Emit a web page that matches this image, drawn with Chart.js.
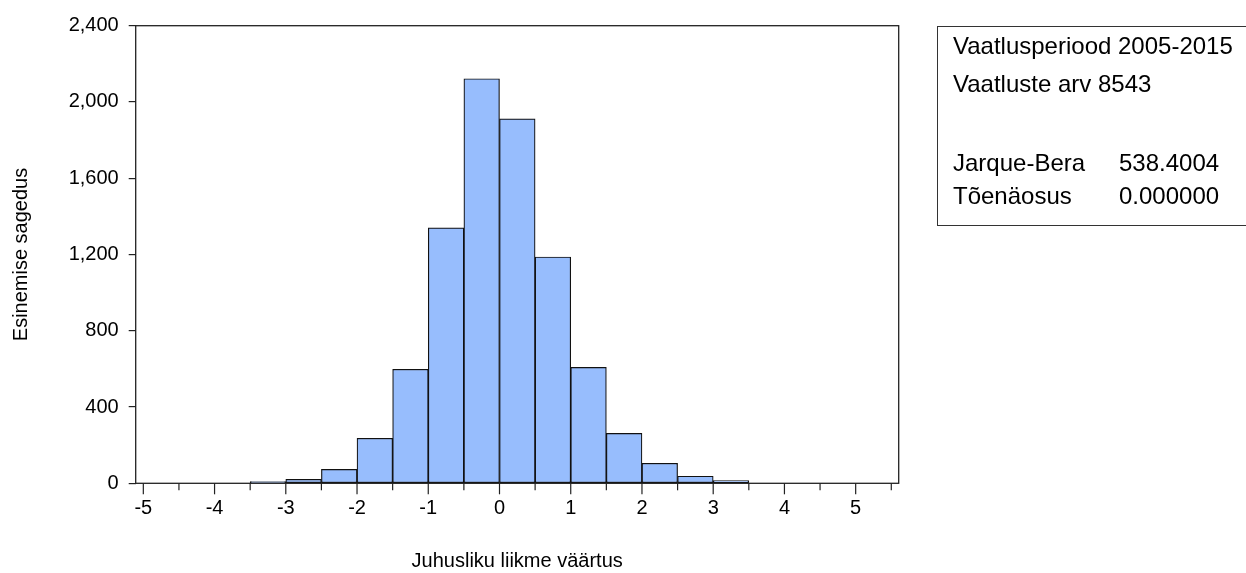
<!DOCTYPE html>
<html>
<head>
<meta charset="utf-8">
<script src="https://cdn.jsdelivr.net/npm/chart.js@4/dist/chart.umd.min.js"></script>
<style>
  html, body { margin: 0; padding: 0; background: #fff; }
  #wrap { width: 1246px; height: 573px; position: relative; }
</style>
</head>
<body>
<div id="wrap"><canvas id="grafico" width="1246" height="573"></canvas></div>
<script>
// histogrammi klassid (vasak serv, laius 0.5) ja sagedused
const binStarts = [-3.5, -3, -2.5, -2, -1.5, -1, -0.5, 0, 0.5, 1, 1.5, 2, 2.5, 3];
const counts = [9, 21, 73, 236, 598, 1340, 2122, 1911, 1187, 608, 262, 105, 37, 14];
const binWidth = 0.5;

const xTicks = [-5, -4.5, -4, -3.5, -3, -2.5, -2, -1.5, -1, -0.5, 0, 0.5, 1, 1.5, 2, 2.5, 3, 3.5, 4, 4.5, 5, 5.5];
const yTicks = [0, 400, 800, 1200, 1600, 2000, 2400];
const statLines = [
    ['Vaatlusperiood 2005-2015', ''],
    ['Vaatluste arv 8543', ''],
    ['Jarque-Bera', '538.4004'],
    ['Tõenäosus', '0.000000']
];

const FONT = 'Liberation Sans, Arial, sans-serif';
const isWhole = v => Math.abs(v - Math.round(v)) < 1e-9;

// raam ümber joonise, x-telje kriipsud ja statistika kast
const extras = {
    id: 'extras',
    afterDraw(chart) {
        const ctx = chart.ctx;
        const a = chart.chartArea;
        const xs = chart.scales.x;
        ctx.save();
        ctx.strokeStyle = '#222';
        ctx.lineWidth = 1.3;
        ctx.strokeRect(a.left, a.top, a.right - a.left, a.bottom - a.top);

        // kriipsud iga 0.5 järel, täisarvudel pikemad
        ctx.lineWidth = 1.2;
        xTicks.forEach(v => {
            let px = xs.getPixelForValue(v);
            let len = isWhole(v) ? 11 : 7;
            ctx.beginPath();
            ctx.moveTo(px, a.bottom);
            ctx.lineTo(px, a.bottom + len);
            ctx.stroke();
        });

        // kast paremal
        ctx.lineWidth = 1;
        ctx.strokeStyle = '#333';
        ctx.strokeRect(937.5, 26.5, 400, 199);
        ctx.fillStyle = '#000';
        ctx.font = '24px ' + FONT;
        ctx.textBaseline = 'alphabetic';
        const baselines = [54, 92, 171, 204];
        statLines.forEach((ln, k) => {
            ctx.fillText(ln[0], 953, baselines[k]);
            if (ln[1]) ctx.fillText(ln[1], 1119, baselines[k]);
        });
        ctx.restore();
    }
};

new Chart('grafico', {
    type: 'bar',
    data: {
        datasets: [{
            data: binStarts.map((b, i) => ({ x: b + binWidth / 2, y: counts[i] })),
            backgroundColor: '#97bdfd',
            borderColor: '#111',
            borderWidth: 1.2,
            borderSkipped: false,
            barPercentage: 1,
            categoryPercentage: 1
        }]
    },
    options: {
        responsive: false,
        animation: false,
        devicePixelRatio: 1,
        layout: { padding: { left: 0, right: 347.3, top: 25.7, bottom: 0 } },
        plugins: { legend: { display: false }, tooltip: { enabled: false } },
        scales: {
            x: {
                type: 'linear',
                min: -5.107,
                max: 5.604,
                offset: false,
                afterFit(scale) { scale.height = 89.7; },
                afterBuildTicks(scale) { scale.ticks = xTicks.map(v => ({ value: v })); },
                grid: { display: false, drawTicks: false },
                border: { display: false },
                ticks: {
                    autoSkip: false,
                    maxRotation: 0,
                    padding: 13,
                    color: '#000',
                    font: { family: FONT, size: 20 },
                    callback: v => (isWhole(v) ? String(Math.round(v)) : '')
                },
                title: {
                    display: true,
                    text: 'Juhusliku liikme väärtus',
                    color: '#000',
                    padding: 0,
                    font: { family: FONT, size: 20 }
                }
            },
            y: {
                min: 0,
                max: 2400,
                afterFit(scale) { scale.width = 135.7; },
                afterBuildTicks(scale) { scale.ticks = yTicks.map(v => ({ value: v })); },
                grid: { drawOnChartArea: false, drawTicks: true, tickLength: 7, color: '#222', lineWidth: 1.2 },
                border: { display: false },
                ticks: {
                    padding: 10,
                    color: '#000',
                    font: { family: FONT, size: 20 },
                    callback: v => v.toLocaleString('en-US')
                },
                title: {
                    display: true,
                    text: 'Esinemise sagedus',
                    color: '#000',
                    padding: 9,
                    font: { family: FONT, size: 20 }
                }
            }
        }
    },
    plugins: [extras]
});
</script>
</body>
</html>
